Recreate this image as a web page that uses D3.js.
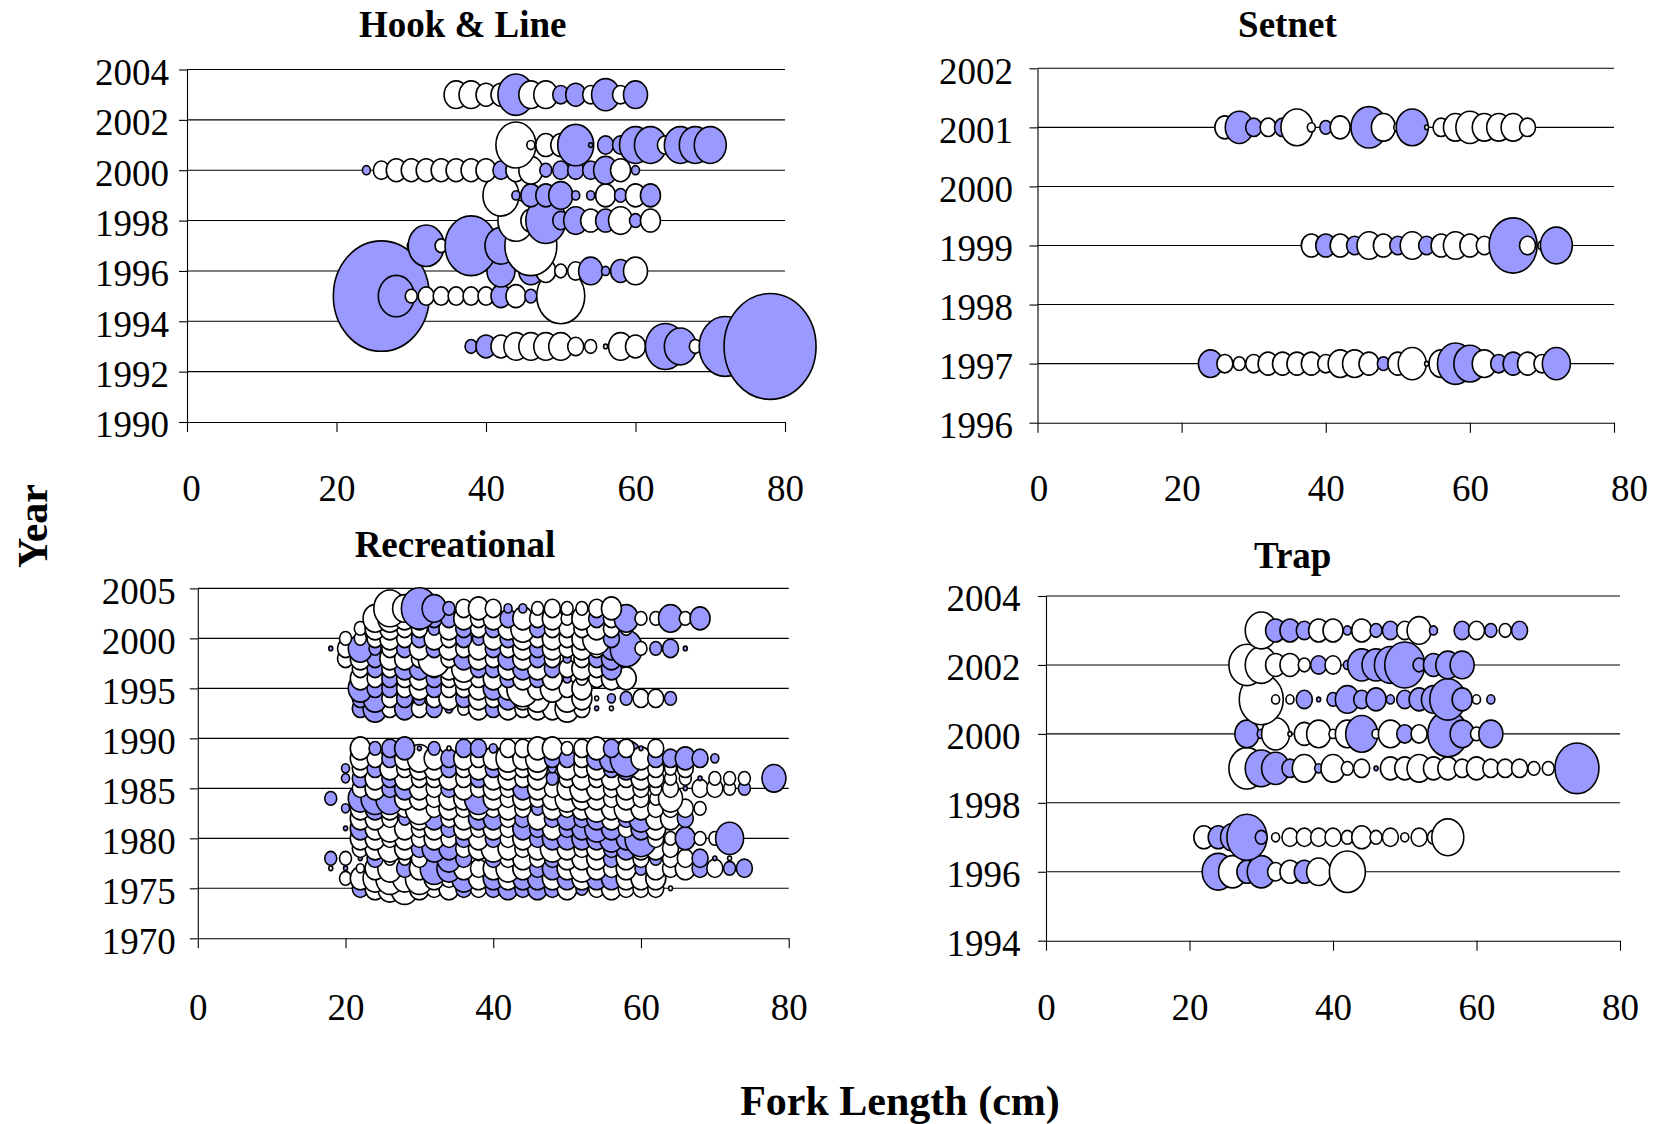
<!DOCTYPE html>
<html><head><meta charset="utf-8">
<script src="https://cdn.jsdelivr.net/npm/d3@7"></script>
<style>
body{margin:0;background:#fff}
svg{display:block}
text{font-family:"Liberation Serif","Times New Roman",serif;fill:#000}
</style>
</head><body>
<svg id="c" width="1660" height="1124"></svg>
<script>
// ---------------- DATA ----------------
// Each row: year, first fork-length bin (cm), then one code per 2-cm bin.
// Code letter = bubble size (a=1 ... z=26); UPPERCASE = blue bubble, lowercase = white bubble, "." = none.
const xTicks = [0, 20, 40, 60, 80];

const hookYTicks = [1990, 1992, 1994, 1996, 1998, 2000, 2002, 2004];
const hookYears  = [1993, 1995, 1996, 1997, 1998, 1999, 2000, 2001, 2003];
const hookStart  = [38, 26, 42, 30, 44, 42, 24, 44, 36];
const hookCodes  = [
  "CEeffffdca fe.JHc.M.. W",
  "XIcdddddEe Cdl",
  "G.FecdFBEf",
  "BIc.M.H.m",
  "ieJDFeEfCe",
  "iBEEFBBeCe E",
  "BdeeeeeeeD efCDDDFeB",
  "jbeeIADDHH dHHH",
  "ffeeIffDEd GdF"
];

const setnetYTicks = [1996, 1997, 1998, 1999, 2000, 2001, 2002];
const setnetYears  = [1997, 1999, 2001];
const setnetStart  = [24, 38, 26];
const setnetCodes  = [
  "FdcdeeeedffeCegafIHfDEedG",
  "eEeDfeDfDefed.LdbH",
  "eGDdDhbCe.IfbHadfgfffd"
];

const recYTicks = [1970, 1975, 1980, 1985, 1990, 1995, 2000, 2005];
const recYears  = [1975, 1976, 1977, 1978, 1979, 1980, 1981, 1982, 1983, 1984, 1985, 1986, 1987, 1988, 1989,
                   1993, 1994, 1995, 1996, 1997, 1998, 1999, 2000, 2001, 2002, 2003];
const recStart  = [22, 20, 18, 18, 22, 22, 20, 22, 20, 18, 22, 20, 20, 22, 22,
                   22, 22, 22, 22, 22, 20, 18, 20, 22, 24, 26];
const recCodes  = [
  "DefgedeDdD EDEDeCdedd da",
  "cefgfgedFe EeEEeEeEEe ee",
  "aAbefDeGFe defeDEefed eCedeDdCD",
  "CcADccdAFD ADdedDeeeD edCddDAa",
  "defeDFEdef edefedeDEe ed",
  "eedededDeD deDEEEEFEH dcEccG",
  "AEefedeDed edEDeDEFEd Ee",
  "eedCeEdeEE dDeDEDEeDF eeD",
  "BeEedgdede dedCedefef edddc",
  "C.FGGeedee Gededefeed edcf",
  "deDEedDede dEedefeded cdAddcC",
  "BDeDeddedD eedeCdeded edccAccc.F",
  "BdDedeeDde DedeBedeDE edcd",
  "edDefeDede fefDDdEFHe DDEDB",
  "eCDEACaDDB ddeecdeDdA d",
  "DFdEdDBceD edeefdAa",
  "DFdDCdeDed EefafeaBCd dC",
  "FDDdeDddeE ehefde",
  "edDdeDdede DeDeBcdee",
  "dDdEEdefDD eEeDdedE",
  "deDeedhdEe dEeDdBdDE",
  "AdFCdDeDed eDdeDededE HcCDA",
  "ccdedDedDC eDededegD",
  "ceeddCeDdD efDdddedc",
  "ffeEDDedeD edeceDdFcc FcE",
  "hfIFCdedBB cdccde"
];

const trapYTicks = [1994, 1996, 1998, 2000, 2002, 2004];
const trapYears  = [1996, 1997, 1999, 2000, 2001, 2002, 2003];
const trapStart  = [24, 22, 28, 28, 30, 28, 30];
const trapCodes  = [
  "HgEGdeEf.i",
  "eEFJCbddddcecdbdch",
  "iHGDfBfcdAeefeededddcc.K",
  "FBgaefbfHbfDd.JFcF",
  "kbbDACFDEBDEFIEbB",
  "iheecDdBGGHJCEFF",
  "hEEDeeBeCDdfB.DdCcD"
];

// ---------------- HELPERS ----------------
function parseRows(years, starts, codes) {
  const out = [];
  years.forEach((yr, i) => {
    const s = codes[i].replace(/\s+/g, "");
    for (let k = 0; k < s.length; k++) {
      const ch = s[k];
      if (ch === ".") continue;
      const lo = ch.toLowerCase();
      out.push({ year: yr, len: starts[i] + 2 * k, size: lo.charCodeAt(0) - 96, blue: ch !== lo });
    }
  });
  return out.sort((a, b) => a.year - b.year || a.len - b.len);
}

const BLUE = "#9999FF";
const ASPECT = 1.15;
const rScale = d3.scaleLinear().domain([0, 26]).range([0, 52]);
const FONT = 37;
const SERIF = '"Liberation Serif","Times New Roman",serif';

const svg = d3.select("#c");

const panels = [
  { title: "Hook & Line", data: parseRows(hookYears, hookStart, hookCodes), yTicks: hookYTicks,
    x0: 187, x1: 785, yb: 422, yt: 69.5, titleX: 462.7, titleY: 37, yPad: 10, xPad: 43, firstDx: 4, lastDx: 0 },
  { title: "Setnet", data: parseRows(setnetYears, setnetStart, setnetCodes), yTicks: setnetYTicks,
    x0: 1037.5, x1: 1614, yb: 422.7, yt: 68.3, titleX: 1287.4, titleY: 37, yPad: 16.5, xPad: 42.3, firstDx: 1, lastDx: 15 },
  { title: "Recreational", data: parseRows(recYears, recStart, recCodes), yTicks: recYTicks,
    x0: 197.8, x1: 788.7, yb: 938.3, yt: 588.4, titleX: 455, titleY: 557, yPad: 14, xPad: 45.7, firstDx: 0, lastDx: 0 },
  { title: "Trap", data: parseRows(trapYears, trapStart, trapCodes), yTicks: trapYTicks,
    x0: 1046, x1: 1620, yb: 940.7, yt: 596, titleX: 1292.7, titleY: 567.5, yPad: 17.4, xPad: 43.3, firstDx: 0, lastDx: 0 }
];

panels.forEach(p => {
  const yTicks = p.yTicks;
  const x = d3.scaleLinear().domain([0, 80]).range([p.x0, p.x1]);
  const y = d3.scaleLinear().domain([yTicks[0], yTicks[yTicks.length - 1]]).range([p.yb, p.yt]);
  const g = svg.append("g");

  // gridlines
  g.selectAll("line.grid").data(yTicks.slice(1)).enter().append("line")
    .attr("x1", p.x0).attr("x2", p.x1)
    .attr("y1", d => y(d)).attr("y2", d => y(d))
    .attr("stroke", "#000").attr("stroke-width", 1.1);

  // y axis
  const ya = g.append("g").attr("transform", `translate(${p.x0},0)`)
    .call(d3.axisLeft(y).tickValues(yTicks).tickFormat(d3.format("d"))
      .tickSize(8).tickSizeOuter(0).tickPadding(p.yPad));
  // x axis
  const xa = g.append("g").attr("transform", `translate(0,${p.yb})`)
    .call(d3.axisBottom(x).tickValues(xTicks).tickFormat(d3.format("d"))
      .tickSize(10).tickSizeOuter(0).tickPadding(p.xPad));

  [ya, xa].forEach(a => {
    a.attr("font-family", SERIF).attr("font-size", FONT);
    a.select(".domain").attr("stroke", "#000").attr("stroke-width", 1.1);
    a.selectAll(".tick line").attr("stroke", "#000").attr("stroke-width", 1.1);
    a.selectAll("text").style("font-family", SERIF).style("font-size", FONT + "px").attr("fill", "#000");
  });
  ya.selectAll(".tick text").attr("dy", "0.4em");
  xa.selectAll(".tick text").filter(d => d === 80).attr("dx", p.lastDx);
  xa.selectAll(".tick text").filter(d => d === 0).attr("dx", p.firstDx);

  // title
  g.append("text").attr("x", p.titleX).attr("y", p.titleY)
    .attr("text-anchor", "middle").attr("font-weight", "bold").attr("font-size", FONT)
    .text(p.title);

  // bubbles
  g.append("g").selectAll("ellipse").data(p.data).enter().append("ellipse")
    .attr("cx", d => x(d.len))
    .attr("cy", d => y(d.year))
    .attr("rx", d => rScale(d.size))
    .attr("ry", d => rScale(d.size) * ASPECT)
    .attr("fill", d => d.blue ? BLUE : "#fff")
    .attr("stroke", "#000").attr("stroke-width", 1.6);
});

// shared axis titles
svg.append("text").attr("x", 900).attr("y", 1115).attr("text-anchor", "middle")
  .attr("font-weight", "bold").attr("font-size", 42).text("Fork Length (cm)");
svg.append("text").attr("transform", "translate(47,526) rotate(-90)").attr("text-anchor", "middle")
  .attr("font-weight", "bold").attr("font-size", 42).text("Year");
</script>
</body></html>
